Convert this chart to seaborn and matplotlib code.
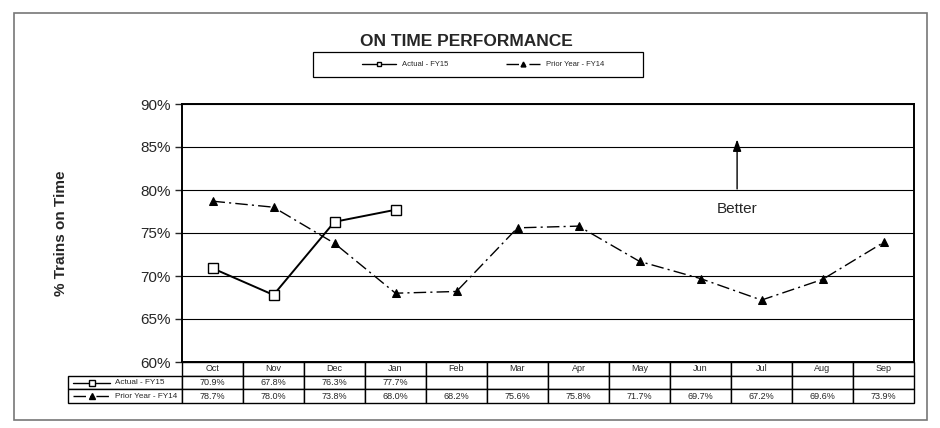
import matplotlib
matplotlib.use("Agg")
import matplotlib.pyplot as plt
import matplotlib.patches as mpatches
from matplotlib.lines import Line2D
import numpy as np
import pandas as pd
import seaborn as sns

months = ["Oct", "Nov", "Dec", "Jan", "Feb", "Mar", "Apr", "May", "Jun", "Jul", "Aug", "Sep"]
actual_fy15 = [70.9, 67.8, 76.3, 77.7, np.nan, np.nan, np.nan, np.nan, np.nan, np.nan, np.nan, np.nan]
prior_fy14 = [78.7, 78.0, 73.8, 68.0, 68.2, 75.6, 75.8, 71.7, 69.7, 67.2, 69.6, 73.9]
yticks = [60, 65, 70, 75, 80, 85, 90]

sns.set_style("white")
plt.rcParams["font.family"] = ["Liberation Sans", "DejaVu Sans"]

df = pd.DataFrame({"pos": range(len(months)), "month": months,
                   "actual": actual_fy15, "prior": prior_fy14})

fig = plt.figure(figsize=(9.4, 4.28), dpi=100)
W, H = 940, 428


def fbox(x0, y0, x1, y1):
    # pixel box (top-left origin) -> figure fraction rect
    return [x0 / W, 1 - y1 / H, (x1 - x0) / W, (y1 - y0) / H]


ax = fig.add_axes(fbox(182, 104, 914, 362))

dashdot = (0, (9, 3, 1.5, 3))
sns.lineplot(data=df.dropna(subset=["actual"]), x="pos", y="actual", ax=ax, color="black",
             lw=1.4, marker="s", markersize=6.5, markerfacecolor="white",
             markeredgecolor="black", markeredgewidth=1.0)
sns.lineplot(data=df, x="pos", y="prior", ax=ax, color="black", lw=1.0,
             linestyle=dashdot, marker="^", markersize=6, markerfacecolor="black",
             markeredgecolor="black")

ax.set_xlim(-0.5, len(months) - 0.5)
ax.set_ylim(60, 90)
ax.set_yticks(yticks)
ax.set_yticklabels([f"{v}%" for v in yticks], fontsize=11)
ax.set_xticks([])
ax.set_xlabel("")
ax.set_ylabel("% Trains on Time", fontsize=11, fontweight="bold")
ax.yaxis.set_label_coords((68 - 182) / 732, 0.5)
ax.tick_params(axis="y", length=5, width=1, direction="out", left=True, pad=3)
ax.grid(axis="y", color="black", lw=0.8)
for s in ax.spines.values():
    s.set_color("black")
    s.set_linewidth(1.4)

ax.annotate("", xy=(8.6, 86.2), xytext=(8.6, 79.8),
            arrowprops=dict(arrowstyle="-|>,head_length=0.7,head_width=0.25",
                            color="black", lw=1.0))
ax.text(8.6, 77.8, "Better", ha="center", va="center", fontsize=11)

# data table under the plot
tax = fig.add_axes(fbox(68, 362, 914, 403))
tax.set_axis_off()
cell_text = [[""] + months,
             [""] + [f"{v:.1f}%" if not np.isnan(v) else "" for v in actual_fy15],
             [""] + [f"{v:.1f}%" for v in prior_fy14]]
first_w = (182 - 68) / 846
col_w = [first_w] + [(1 - first_w) / 12] * 12
tbl = tax.table(cellText=cell_text, colWidths=col_w, bbox=[0, 0, 1, 1], cellLoc="center")
tbl.auto_set_font_size(False)
tbl.set_fontsize(6.5)
for (r, c), cell in tbl.get_celld().items():
    cell.set_linewidth(1.0)
    cell.set_edgecolor("black")
    if r == 0 and c == 0:
        cell.visible_edges = ""

row_y = [0.5, 0.17]
labels = ["Actual - FY15", "Prior Year - FY14"]
styles = [dict(ls="-", marker="s", mfc="white", ms=4),
          dict(ls=dashdot, marker="^", mfc="black", ms=4)]
for y, lab, st in zip(row_y, labels, styles):
    tax.add_line(Line2D([0.006, 0.05], [y, y], color="black", lw=1.0, ls=st["ls"],
                        transform=tax.transAxes))
    tax.add_line(Line2D([0.0285], [y], color="black", mec="black", ls="none",
                        marker=st["marker"], mfc=st["mfc"], ms=st["ms"],
                        transform=tax.transAxes))
    tax.text(0.056, y, lab, transform=tax.transAxes, fontsize=5.9, ha="left", va="center")

# legend at top
handles = [Line2D([], [], color="black", lw=1.0, marker="s", mfc="white", ms=3.5),
           Line2D([], [], color="black", lw=1.0, ls=dashdot, marker="^", mfc="black", ms=3.5)]
leg = fig.legend(handles, labels, loc="center", bbox_to_anchor=(483 / W, 1 - 64.5 / H),
                 ncol=2, fontsize=5.5, frameon=False,
                 handlelength=4.5, columnspacing=7.5, handletextpad=0.8)
fig.patches.append(mpatches.Rectangle((313 / W, 1 - 77 / H), 330 / W, 25 / H,
                                      transform=fig.transFigure, fill=False,
                                      edgecolor="black", lw=0.9))

fig.text(466 / W, 1 - 41 / H, "ON TIME PERFORMANCE", ha="center", va="center",
         fontsize=12.5, fontweight="bold")

fig.patches.append(mpatches.Rectangle((14 / W, 8 / H), (927 - 14) / W, (420 - 13) / H,
                                      transform=fig.transFigure, fill=False,
                                      edgecolor="#777777", lw=1.2))

fig.savefig("out.png", dpi=100)
